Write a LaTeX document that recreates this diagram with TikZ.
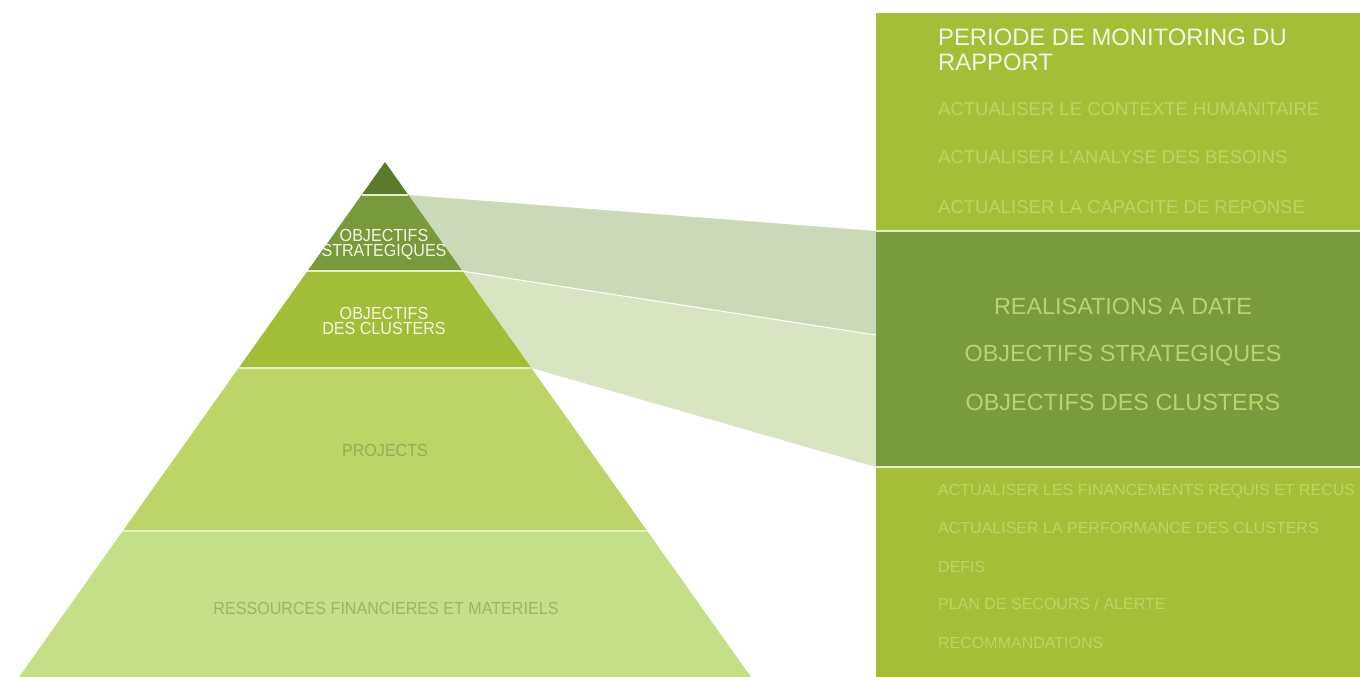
\documentclass[tikz,border=0pt]{standalone}
\usepackage{fontspec}
\setmainfont{Liberation Sans}
\newfontfamily\pyrfont[FakeStretch=0.92]{Liberation Sans}
\usepackage{xcolor}
\usetikzlibrary{calc}

\definecolor{tipgreen}{HTML}{5B7B2C}
\definecolor{stratgreen}{HTML}{789A3C}
\definecolor{clustgreen}{HTML}{A2BE38}
\definecolor{projgreen}{HTML}{BCD468}
\definecolor{resgreen}{HTML}{C5DF89}
\definecolor{bandone}{HTML}{CCD9B8}
\definecolor{bandtwo}{HTML}{D9E5C2}
\definecolor{panelgreen}{HTML}{A4BE38}
\definecolor{panelmid}{HTML}{7A9A3E}
\definecolor{sepwhite}{HTML}{E4EFC4}
\definecolor{titlewhite}{HTML}{F3F6E2}
\definecolor{itemgreen}{HTML}{BDD463}
\definecolor{midtext}{HTML}{B9D46C}
\definecolor{projtext}{HTML}{94AE55}
\definecolor{restext}{HTML}{9BB562}

\tikzset{
  sepline/.style={draw=sepwhite,line width=1.8pt},
  pyrtext/.style={font=\pyrfont\fontsize{17.5}{15.5}\selectfont,align=center,inner sep=0pt},
  titletext/.style={font=\fontsize{23.8}{25}\selectfont,text=titlewhite,align=left,inner sep=0pt,anchor=north west},
  topitem/.style={font=\fontsize{18.5}{20}\selectfont,text=itemgreen,inner sep=0pt,anchor=base west},
  miditem/.style={font=\fontsize{23.4}{25}\selectfont,text=midtext,inner sep=0pt,anchor=base},
  lowitem/.style={font=\fontsize{16}{18}\selectfont,text=itemgreen,inner sep=0pt,anchor=base west}
}

\begin{document}
\begin{tikzpicture}[x=1pt,y=-1pt]
  \useasboundingbox (0,0) rectangle (1360,677);
  % pyramid corners
  \coordinate (apex) at (385,162);
  \coordinate (bl) at (19,677);
  \coordinate (br) at (751,677);
  \coordinate (l1) at ($(apex)!0.064!(bl)$);
  \coordinate (r1) at ($(apex)!0.064!(br)$);
  \coordinate (l2) at ($(apex)!0.212!(bl)$);
  \coordinate (r2) at ($(apex)!0.212!(br)$);
  \coordinate (l3) at ($(apex)!0.4!(bl)$);
  \coordinate (r3) at ($(apex)!0.4!(br)$);
  \coordinate (l4) at ($(apex)!0.717!(bl)$);
  \coordinate (r4) at ($(apex)!0.717!(br)$);
  % panel corners
  \coordinate (pnw) at (876,13);
  \coordinate (pse) at (1360,677);
  \coordinate (mtop) at (876,231);
  \coordinate (mmid) at (876,335);
  \coordinate (mbot) at (876,467);

  % bands to the panel
  \fill[bandone] (r1) -- (mtop) -- (mmid) -- (r2) -- cycle;
  \fill[bandtwo] (r2) -- (mmid) -- (mbot) -- (r3) -- cycle;
  \draw[white,line width=1pt] (r2) -- (mmid);

  % pyramid
  \fill[tipgreen] (apex) -- (r1) -- (l1) -- cycle;
  \fill[stratgreen] (l1) -- (r1) -- (r2) -- (l2) -- cycle;
  \fill[clustgreen] (l2) -- (r2) -- (r3) -- (l3) -- cycle;
  \fill[projgreen] (l3) -- (r3) -- (r4) -- (l4) -- cycle;
  \fill[resgreen] (l4) -- (r4) -- (br) -- (bl) -- cycle;
  \draw[sepline] (l1) -- (r1) (l2) -- (r2) (l3) -- (r3) (l4) -- (r4);

  \node[pyrtext,text=titlewhite,anchor=north] (strat) at (384,229) {OBJECTIFS\\STRATEGIQUES};
  \node[pyrtext,text=titlewhite,anchor=north] (clust) at (384,307) {OBJECTIFS\\DES CLUSTERS};
  \node[pyrtext,text=projtext,anchor=base] (proj) at (385,456) {PROJECTS};
  \node[pyrtext,text=restext,anchor=base] (res) at (386,614) {RESSOURCES FINANCIERES ET MATERIELS};

  % panel
  \fill[panelgreen] (pnw) rectangle (pse);
  \fill[panelmid] (mtop) rectangle (pse |- mbot);
  \draw[sepline,line width=1.2pt] (mtop) -- (pse |- mtop) (mbot) -- (pse |- mbot);

  \node[titletext] (title) at (938,29) {PERIODE DE MONITORING DU\\RAPPORT};
  \node[topitem] (ctx) at (938,115) {ACTUALISER LE CONTEXTE HUMANITAIRE};
  \node[topitem] (besoins) at (938,163) {ACTUALISER L'ANALYSE DES BESOINS};
  \node[topitem] (capac) at (938,213) {ACTUALISER LA CAPACITE DE REPONSE};

  \node[miditem] (realis) at (1123,314) {REALISATIONS A DATE};
  \node[miditem] (objstrat) at (1123,361) {OBJECTIFS STRATEGIQUES};
  \node[miditem] (objclust) at (1123,410) {OBJECTIFS DES CLUSTERS};

  \node[lowitem] (financ) at (938,495) {ACTUALISER LES FINANCEMENTS REQUIS ET RECUS};
  \node[lowitem] (perf) at (938,533) {ACTUALISER LA PERFORMANCE DES CLUSTERS};
  \node[lowitem] (defis) at (938,572) {DEFIS};
  \node[lowitem] (secours) at (938,609) {PLAN DE SECOURS / ALERTE};
  \node[lowitem] (recom) at (938,648) {RECOMMANDATIONS};
\end{tikzpicture}
\end{document}
